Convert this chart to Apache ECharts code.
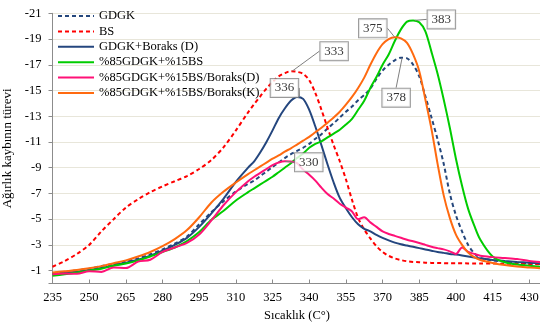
<!DOCTYPE html>
<html><head><meta charset="utf-8">
<script src="https://cdn.jsdelivr.net/npm/echarts@6/dist/echarts.min.js"></script>
<style>html,body{margin:0;padding:0;background:#fff}#c{width:540px;height:326px}</style>
</head><body><div id="c"></div>
<script>
// Temperature (°C)
const temps = [235,240,245,250,255,260,265,270,275,280,285,290,295,300,305,310,315,
  317.5,320,322.5,325,327.5,330,332.5,335,337.5,340,342.5,345,347.5,350,352.5,355,357.5,360,362.5,365,367.5,370,372.5,375,377.5,380,382.5,385,387.5,390,392.5,395,397.5,400,402.5,405,407.5,410,
  415,420,425,430,435];

const gdgk = [-0.8,-0.9,-1.02,-1.15,-1.35,-1.52,-1.72,-1.95,-2.27,-2.65,-3.1,-3.65,-4.6,-5.55,-6.4,-7.15,-7.75,
  -8.0,-8.35,-8.7,-9.05,-9.4,-9.75,-10.05,-10.3,-10.55,-10.85,-11.25,-11.6,-12.05,-12.45,-12.9,-13.35,-13.75,-14.25,-14.65,-15.15,-15.9,-16.55,-17.0,-17.35,-17.55,-17.5,-17.0,-16.1,-14.55,-12.9,-11.2,-9.3,-7.0,-5.3,-4.05,-3.0,-2.35,-1.98,
  -1.8,-1.7,-1.62,-1.56,-1.5];

const bs = [-1.3,-1.75,-2.3,-3.0,-4.05,-5.0,-5.9,-6.55,-7.1,-7.55,-7.95,-8.35,-8.9,-9.6,-10.6,-11.9,-13.3,
  -13.95,-14.55,-15.15,-15.65,-16.1,-16.35,-16.5,-16.45,-16.3,-15.8,-14.8,-13.5,-12.1,-10.75,-9.5,-8.1,-6.5,-5.1,-4.2,-3.5,-2.9,-2.45,-2.15,-1.95,-1.82,-1.73,-1.68,-1.65,-1.62,-1.6,-1.59,-1.58,-1.57,-1.57,-1.57,-1.56,-1.56,-1.56,
  -1.55,-1.54,-1.53,-1.52,-1.5];

const gdgkBoraksD = [-0.72,-0.82,-0.92,-1.05,-1.2,-1.42,-1.62,-1.85,-2.17,-2.55,-3.0,-3.55,-4.4,-5.45,-6.6,-7.9,-9.0,
  -9.5,-10.2,-11.0,-11.9,-12.85,-13.6,-14.2,-14.5,-14.35,-13.5,-12.2,-10.75,-9.25,-7.85,-6.65,-5.85,-5.15,-4.6,-4.25,-4.05,-3.78,-3.55,-3.35,-3.18,-3.05,-2.95,-2.85,-2.75,-2.65,-2.55,-2.45,-2.38,-2.3,-2.25,-2.18,-2.1,-2.02,-1.95,
  -1.83,-1.75,-1.68,-1.62,-1.56];

const mix85_15 = [-0.6,-0.72,-0.85,-1.0,-1.15,-1.38,-1.55,-1.8,-2.1,-2.45,-2.8,-3.3,-4.0,-4.95,-5.65,-6.45,-7.1,
  -7.4,-7.7,-8.0,-8.3,-8.65,-9.0,-9.35,-9.75,-10.1,-10.55,-10.85,-11.05,-11.35,-11.65,-11.95,-12.35,-12.8,-13.5,-14.2,-15.2,-16.05,-17.0,-17.8,-18.85,-19.75,-20.35,-20.45,-20.3,-19.6,-18.0,-16.3,-14.3,-12.1,-9.7,-7.6,-5.8,-4.5,-3.4,
  -2.1,-1.65,-1.48,-1.38,-1.3];

const mixBoraksD = [-0.72,-0.78,-0.75,-0.95,-0.9,-1.25,-1.2,-1.7,-1.85,-2.45,-2.8,-3.15,-3.8,-4.9,-6.1,-7.1,-7.95,
  -8.3,-8.6,-8.9,-9.2,-9.4,-9.5,-9.48,-9.35,-8.85,-8.45,-8.0,-7.45,-6.95,-6.6,-6.2,-5.9,-5.6,-5.0,-5.15,-4.75,-4.4,-4.05,-3.85,-3.7,-3.55,-3.4,-3.28,-3.15,-3.0,-2.85,-2.75,-2.65,-2.5,-2.3,-2.8,-2.45,-2.3,-2.15,
  -2.05,-1.98,-1.9,-1.75,-1.65];

const mixBoraksK = [-0.85,-0.95,-1.05,-1.18,-1.35,-1.58,-1.8,-2.1,-2.45,-2.9,-3.45,-4.15,-5.15,-6.3,-7.15,-7.85,-8.5,
  -8.8,-9.1,-9.4,-9.7,-9.95,-10.25,-10.5,-10.8,-11.1,-11.4,-11.75,-12.1,-12.5,-12.9,-13.35,-13.9,-14.5,-15.2,-16.0,-17.0,-17.9,-18.6,-19.0,-19.13,-19.05,-18.7,-17.8,-16.5,-14.3,-12.0,-9.3,-6.85,-5.1,-3.8,-3.0,-2.4,-2.05,-1.83,
  -1.6,-1.43,-1.32,-1.25,-1.18];

const seriesNames = ['GDGK','BS','GDGK+Boraks (D)','%85GDGK+%15BS','%85GDGK+%15BS/Boraks(D)','%85GDGK+%15BS/Boraks(K)'];

// Peak annotations
const peakTemps = [378, 333, 336, 383, 330, 375];
const peakVals = [-17.55, -16.5, -14.5, -20.45, -9.5, -19.13];

const yTicks = [-21,-19,-17,-15,-13,-11,-9,-7,-5,-3,-1];

const FONT = 'Liberation Serif';
const pair = arr => temps.map((t, i) => [t, arr[i]]);

const styles = [
  {color:'#25477c', type:[4,3]},
  {color:'#ff0000', type:[4,3]},
  {color:'#24467e', type:'solid'},
  {color:'#00cc00', type:'solid'},
  {color:'#ff1177', type:'solid'},
  {color:'#ff6a10', type:'solid'}
];
const values = [gdgk, bs, gdgkBoraksD, mix85_15, mixBoraksD, mixBoraksK];

const lineSeries = values.map((arr, k) => ({
  name: seriesNames[k],
  type: 'line',
  data: pair(arr),
  symbol: 'none',
  smooth: 0.3,
  color: styles[k].color,
  lineStyle: {color: styles[k].color, width: 2, type: styles[k].type},
  z: 2 + k
}));

const labelOffsets = [
  {dx: -6, dy: 40},
  {dx: 42, dy: -20},
  {dx: -15, dy: -9},
  {dx: 27, dy: -1},
  {dx: 24, dy: 1},
  {dx: -22, dy: -9}
];

const peakSeries = {
  type: 'scatter',
  name: 'peaks',
  symbol: 'circle',
  symbolSize: 1,
  itemStyle: {color: 'rgba(0,0,0,0)'},
  z: 20,
  data: peakTemps.map((t, i) => [t, peakVals[i]]),
  label: {
    show: true,
    position: 'inside',
    formatter: p => String(p.value[0]),
    fontFamily: FONT,
    fontSize: 13,
    color: '#000',
    backgroundColor: '#fff',
    borderColor: '#7f7f7f',
    borderWidth: 1,
    padding: [3, 4, 2, 4]
  },
  labelLine: {show: true, length2: 0, lineStyle: {color: '#7f7f7f', width: 1}},
  labelLayout: p => labelOffsets[p.dataIndex],
  silent: true
};

const chart = echarts.init(document.getElementById('c'), null, {renderer: 'canvas'});
chart.setOption({
  animation: false,
  backgroundColor: '#fff',
  grid: {left: 52.5, top: 13.3, width: 489, height: 270.2, outerBoundsMode: 'none', containLabel: false},
  legend: {
    data: seriesNames,
    orient: 'vertical',
    left: 57, top: 9.5,
    padding: 0,
    itemWidth: 36, itemHeight: 14, itemGap: 2.4,
    itemStyle: {opacity: 0},
    textStyle: {fontFamily: FONT, fontSize: 12.5, color: '#000'}
  },
  xAxis: {
    type: 'value', min: 235, max: 435, interval: 15,
    name: 'Sıcaklık (C°)', nameLocation: 'middle', nameGap: 24,
    nameTextStyle: {fontFamily: FONT, fontSize: 12.5, color: '#000'},
    axisLine: {onZero: false, lineStyle: {color: '#8c8c8c', width: 1}},
    axisTick: {show: true, inside: true, length: 4, lineStyle: {color: '#8c8c8c'}},
    axisLabel: {fontFamily: FONT, fontSize: 12.5, color: '#000', margin: 8,
      formatter: v => ((v - 235) % 15 === 0 ? String(v) : '')},
    splitLine: {show: false}
  },
  yAxis: {
    type: 'value', min: -21, max: 0, interval: 2, inverse: true,
    name: 'Ağırlık kaybının türevi', nameLocation: 'middle', nameGap: 30,
    nameTextStyle: {fontFamily: FONT, fontSize: 13, color: '#000'},
    axisLine: {show: true, lineStyle: {color: '#8c8c8c', width: 1}},
    axisTick: {show: true, inside: false, length: 4, lineStyle: {color: '#8c8c8c'}},
    axisLabel: {fontFamily: FONT, fontSize: 12.5, color: '#000', margin: 11,
      formatter: v => (yTicks.indexOf(v) >= 0 ? String(v) : '')},
    splitLine: {show: true, lineStyle: {color: '#e8e6da', width: 1}}
  },
  series: lineSeries.concat([peakSeries])
});
</script>
</body></html>
